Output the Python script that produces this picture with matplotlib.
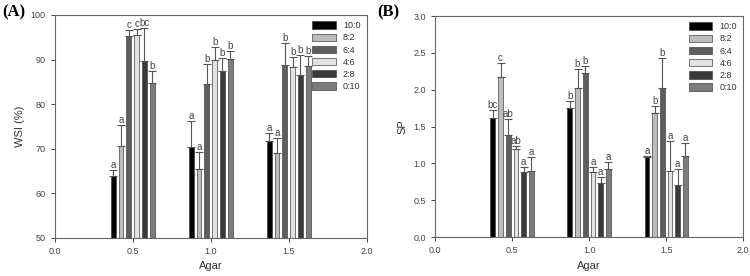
import numpy as np
import matplotlib
matplotlib.use('Agg')
import matplotlib.pyplot as plt

plt.rcParams['font.family'] = ['Liberation Sans', 'DejaVu Sans']

agar = [0.5, 1.0, 1.5]
ratios = ['10:0', '8:2', '6:4', '4:6', '2:8', '0:10']
colors = ['#000000', '#bdbdbd', '#5e5e5e', '#e2e2e2', '#3a3a3a', '#7c7c7c']

# WSI (%) mean and upward error, rows = ratio, cols = agar level
wsi = [[63.8, 70.3, 71.8],
       [70.5, 65.4, 69.0],
       [95.3, 84.4, 88.7],
       [95.6, 89.8, 88.4],
       [89.6, 87.5, 86.6],
       [84.7, 90.2, 88.6]]
wsi_err = [[1.4, 6.0, 1.7],
           [4.8, 3.8, 3.5],
           [1.4, 4.6, 5.1],
           [1.3, 2.9, 2.2],
           [7.4, 2.8, 4.4],
           [2.7, 1.7, 2.2]]
wsi_lab = [['a', 'a', 'a'],
           ['a', 'a', 'a'],
           ['c', 'b', 'b'],
           ['c', 'b', 'b'],
           ['bc', 'b', 'b'],
           ['b', 'b', 'b']]

# SP mean and upward error
sp = [[1.62, 1.75, 1.08],
      [2.17, 2.02, 1.68],
      [1.39, 2.23, 2.02],
      [1.20, 0.88, 0.89],
      [0.88, 0.74, 0.70],
      [0.90, 0.93, 1.10]]
sp_err = [[0.10, 0.09, 0.02],
          [0.19, 0.26, 0.10],
          [0.21, 0.09, 0.41],
          [0.04, 0.07, 0.41],
          [0.07, 0.08, 0.22],
          [0.18, 0.09, 0.18]]
sp_lab = [['bc', 'b', 'a'],
          ['c', 'b', 'b'],
          ['ab', 'b', 'b'],
          ['ab', 'a', 'a'],
          ['a', 'a', 'a'],
          ['a', 'a', 'a']]

offsets = [-0.125, -0.075, -0.025, 0.025, 0.075, 0.125]
width = 0.031
edge = '#444444'


def panel(ax, vals, errs, labs, ylim, yticks, ylabel, pad):
    x = np.array(agar)
    for i in range(len(ratios)):
        xs = x + offsets[i]
        ax.bar(xs, vals[i], width, bottom=ylim[0] if False else 0, color=colors[i],
               edgecolor=edge, linewidth=0.5, label=ratios[i], zorder=2)
        ax.errorbar(xs, vals[i], yerr=[np.zeros(3), errs[i]], fmt='none',
                    ecolor='#555555', elinewidth=0.8, capsize=3, capthick=0.8, zorder=3)
        for j in range(3):
            ax.text(xs[j], vals[i][j] + errs[i][j] + pad, labs[i][j], ha='center',
                    va='bottom', fontsize=7, color='#444444')
    ax.set_xlim(0, 2.0)
    ax.set_ylim(*ylim)
    ax.set_xticks([0.0, 0.5, 1.0, 1.5, 2.0])
    ax.set_xticklabels(['0.0', '0.5', '1.0', '1.5', '2.0'])
    ax.set_yticks(yticks)
    ax.tick_params(direction='out', labelsize=6.5, colors='#444444', length=3, width=0.7)
    for s in ax.spines.values():
        s.set_color('#666666')
        s.set_linewidth(0.8)
    ax.set_xlabel('Agar', fontsize=8, color='#333333')
    ax.set_ylabel(ylabel, fontsize=8, color='#333333')
    leg = ax.legend(loc='upper right', frameon=False, fontsize=6.5, handlelength=2.6,
                    handleheight=0.9, labelspacing=0.35, borderaxespad=0.3)
    for t in leg.get_texts():
        t.set_color('#333333')


fig = plt.figure(figsize=(7.5, 2.76), dpi=100)
axA = fig.add_axes([0.073, 0.138, 0.416, 0.808])
axB = fig.add_axes([0.58, 0.141, 0.411, 0.801])

panel(axA, wsi, wsi_err, wsi_lab, (50, 100), [50, 60, 70, 80, 90, 100], 'WSI (%)', 0.0)
panel(axB, sp, sp_err, sp_lab, (0, 3.0), [0.0, 0.5, 1.0, 1.5, 2.0, 2.5, 3.0], 'SP', 0.0)
axB.set_yticklabels(['0.0', '0.5', '1.0', '1.5', '2.0', '2.5', '3.0'])

fig.text(0.003, 0.985, '(A)', fontsize=12, fontweight='bold', family='Liberation Serif',
         va='top', ha='left')
fig.text(0.503, 0.985, '(B)', fontsize=12, fontweight='bold', family='Liberation Serif',
         va='top', ha='left')

fig.savefig('out.png', dpi=100)
